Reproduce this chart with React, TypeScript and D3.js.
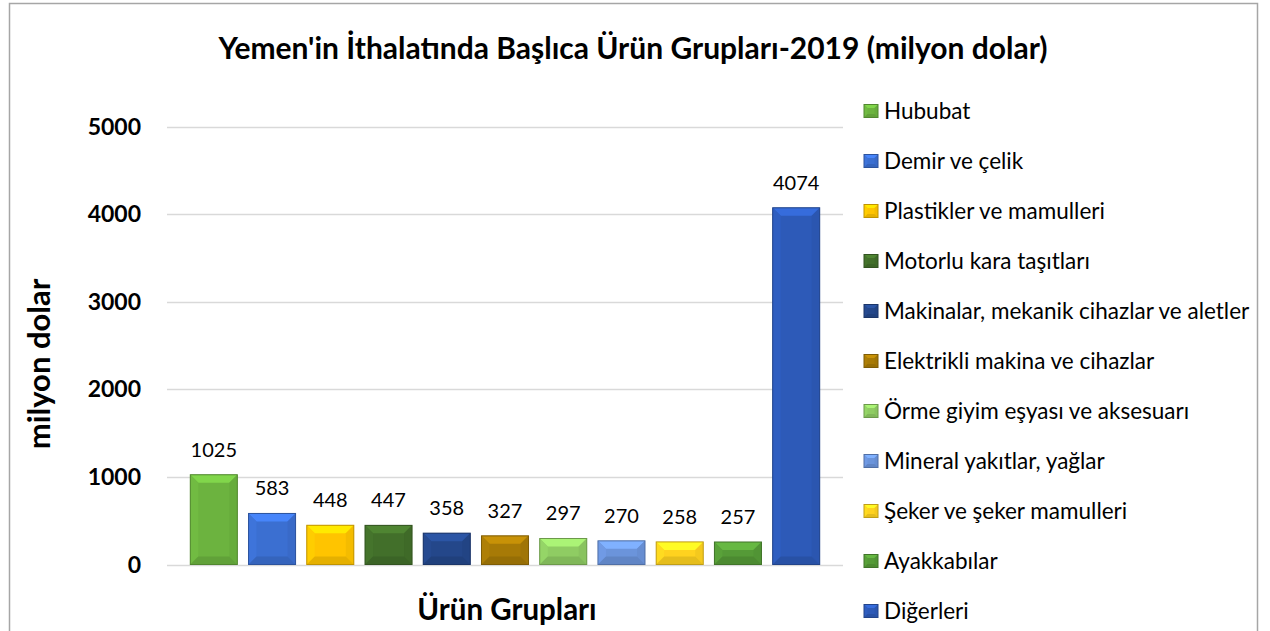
import React from "react";
import * as d3 from "d3";

const categories = [
  "Hububat",
  "Demir ve çelik",
  "Plastikler ve mamulleri",
  "Motorlu kara taşıtları",
  "Makinalar, mekanik cihazlar ve aletler",
  "Elektrikli makina ve cihazlar",
  "Örme giyim eşyası ve aksesuarı",
  "Mineral yakıtlar, yağlar",
  "Şeker ve şeker mamulleri",
  "Ayakkabılar",
  "Diğerleri",
];
const values = [1025, 583, 448, 447, 358, 327, 297, 270, 258, 257, 4074];
const colors = [
  "#6cb33f",
  "#3b6fd1",
  "#ffc400",
  "#426f2a",
  "#24478a",
  "#a77a06",
  "#8fcc63",
  "#6b94db",
  "#ffd21f",
  "#559a37",
  "#2d5ab8",
];
const yTicks = [0, 1000, 2000, 3000, 4000, 5000];
const title = "Yemen'in İthalatında Başlıca Ürün Grupları-2019 (milyon dolar)";
const yTitle = "milyon dolar";
const xTitle = "Ürün Grupları";

const W = 1270;
const H = 631;
const FONT = "Lato, 'Open Sans', sans-serif";

function Bevel({ x, y, w, h, c, b }: { x: number; y: number; w: number; h: number; c: string; b: number }) {
  const col = d3.color(c)!;
  const light = col.brighter(0.5).formatHex();
  const lightS = col.brighter(0.12).formatHex();
  const darkS = col.darker(0.12).formatHex();
  const dark = col.darker(0.3).formatHex();
  const stroke = col.darker(0.8).formatHex();
  const bb = Math.min(b, h / 2, w / 2);
  const p = (pts: number[][]) => pts.map((q) => q.join(",")).join(" ");
  return (
    <g>
      <rect x={x} y={y} width={w} height={h} fill={c} />
      <polygon points={p([[x, y], [x + w, y], [x + w - bb, y + bb], [x + bb, y + bb]])} fill={light} />
      <polygon points={p([[x, y], [x + bb, y + bb], [x + bb, y + h - bb], [x, y + h]])} fill={lightS} />
      <polygon points={p([[x + w, y], [x + w, y + h], [x + w - bb, y + h - bb], [x + w - bb, y + bb]])} fill={darkS} />
      <polygon points={p([[x, y + h], [x + bb, y + h - bb], [x + w - bb, y + h - bb], [x + w, y + h]])} fill={dark} />
      <rect x={x} y={y} width={w} height={h} fill="none" stroke={stroke} strokeWidth={1} />
    </g>
  );
}

export default function App() {
  const x = d3
    .scaleBand<string>()
    .domain(categories)
    .range([167, 843])
    .paddingInner(0.1924)
    .paddingOuter(0.4);
  const y = d3.scaleLinear().domain([0, 5000]).range([564.5, 126.7]);

  return (
    <svg
      width={W}
      height={H}
      style={{ position: "absolute", left: 0, top: 0, background: "#fff" }}
      fontFamily={FONT}
    >
      <rect x={0} y={0} width={W} height={H} fill="#fff" />
      <rect x={9.5} y={3.5} width={1248} height={700} fill="#fff" stroke="#a6a6a6" strokeWidth={1.5} />

      <text x={633} y={59} textAnchor="middle" fontSize={30} fontWeight="bold" fill="#000">
        {title}
      </text>

      {yTicks.map((t) => (
        <g key={t}>
          <line x1={167} x2={843} y1={Math.round(y(t)) + 0.5} y2={Math.round(y(t)) + 0.5} stroke="#d9d9d9" strokeWidth={1.5} />
          <text x={141} y={y(t) + 8} textAnchor="end" fontSize={23} fontWeight="bold" fill="#000">
            {t}
          </text>
        </g>
      ))}

      {categories.map((c, i) => {
        const bx = x(c)!;
        const bw = x.bandwidth();
        const top = y(values[i]);
        const bh = y(0) - top;
        return (
          <g key={c}>
            <Bevel x={bx} y={top} w={bw} h={bh} c={colors[i]} b={8} />
            <text x={bx + bw / 2} y={top - 18} textAnchor="middle" fontSize={20} fill="#000">
              {values[i]}
            </text>
          </g>
        );
      })}

      <text
        transform={`translate(50,364) rotate(-90)`}
        textAnchor="middle"
        fontSize={31}
        fontWeight="bold"
        fill="#000"
      >
        {yTitle}
      </text>
      <text x={507} y={620} textAnchor="middle" fontSize={29.5} fontWeight="bold" fill="#000">
        {xTitle}
      </text>

      {categories.map((c, i) => {
        const cy = 111 + 50 * i;
        return (
          <g key={"lg" + c}>
            <Bevel x={864} y={cy - 6.5} w={14} h={13} c={colors[i]} b={3.5} />
            <text x={884} y={cy + 7.5} fontSize={22.5} fill="#000">
              {c}
            </text>
          </g>
        );
      })}
    </svg>
  );
}
